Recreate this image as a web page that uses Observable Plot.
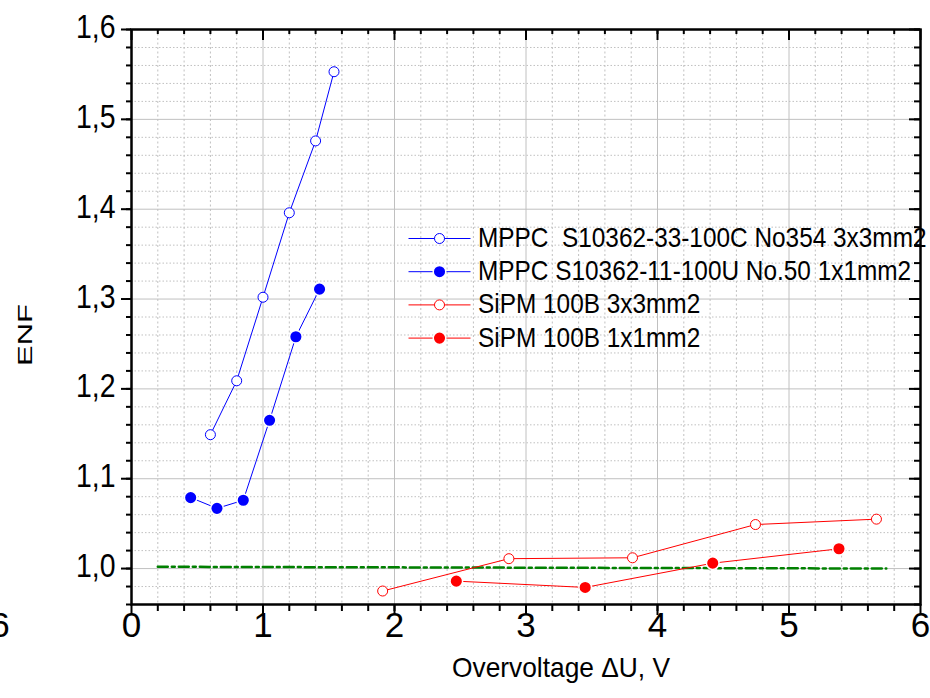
<!DOCTYPE html>
<html><head><meta charset="utf-8">
<script src="https://cdn.jsdelivr.net/npm/d3@7"></script>
<script src="https://cdn.jsdelivr.net/npm/@observablehq/plot@0.6"></script>
<style>
html,body{margin:0;padding:0;background:#fff;}
#chart{width:930px;height:698px;overflow:hidden;position:relative;}
#ylabel{position:absolute;left:24.5px;top:335px;font-family:'Liberation Sans',Arial,sans-serif;font-size:20px;line-height:20px;color:#000;white-space:nowrap;transform:translate(-50%,-50%) rotate(-90deg) scale(1.55,1);transform-origin:50% 50%;}
</style></head><body><div id="chart"></div>
<script>
// ---- data ----
const mppc33Voltage = [0.60, 0.80, 1.00, 1.20, 1.40, 1.54];
const mppc33Enf     = [1.149, 1.209, 1.302, 1.396, 1.476, 1.553];
const mppc11Voltage = [0.45, 0.65, 0.85, 1.05, 1.25, 1.43];
const mppc11Enf     = [1.079, 1.067, 1.076, 1.165, 1.258, 1.311];
const sipm3Voltage  = [1.91, 2.87, 3.81, 4.745, 5.665];
const sipm3Enf      = [0.975, 1.011, 1.012, 1.049, 1.055];
const sipm1Voltage  = [2.47, 3.45, 4.42, 5.38];
const sipm1Enf      = [0.986, 0.979, 1.006, 1.022];
const refLineVoltage = [0.2, 5.74];
const refLineEnf     = [1.002, 1.000];
const seriesNames = [
  "MPPC  S10362-33-100C No354 3x3mm2",
  "MPPC S10362-11-100U No.50 1x1mm2",
  "SiPM 100B 3x3mm2",
  "SiPM 100B 1x1mm2"
];
const xTickValues = [0, 1, 2, 3, 4, 5, 6];
const xTickLabels = ["0", "1", "2", "3", "4", "5", "6"];
const yTickValues = [1.0, 1.1, 1.2, 1.3, 1.4, 1.5, 1.6];
const yTickLabels = ["1,0", "1,1", "1,2", "1,3", "1,4", "1,5", "1,6"];
const strayTick = [{x: -1, label: "6"}];
const xLabel = "Overvoltage \u0394U, V";
const yLabel = "ENF";

// ---- styles ----
const series = [
  {name: seriesNames[0], xs: mppc33Voltage, ys: mppc33Enf, color: "#0000ff", filled: false},
  {name: seriesNames[1], xs: mppc11Voltage, ys: mppc11Enf, color: "#0000ff", filled: true},
  {name: seriesNames[2], xs: sipm3Voltage,  ys: sipm3Enf,  color: "#ff0000", filled: false},
  {name: seriesNames[3], xs: sipm1Voltage,  ys: sipm1Enf,  color: "#ff0000", filled: true}
];
const toRows = (xs, ys) => xs.map((x, i) => ({x, y: ys[i]}));

const xMinorAll = d3.range(1, 30).map(i => i / 5);
const xMinorGrid = d3.range(1, 30).filter(i => i % 5 !== 0).map(i => i / 5);
const yMinorAll = d3.range(96, 161, 2).map(i => i / 100);
const yMinorGrid = d3.range(98, 160, 2).filter(i => i % 10 !== 0).map(i => i / 100);
const xMajorGrid = [1, 2, 3, 4, 5];
const yMajorGrid = [1.0, 1.1, 1.2, 1.3, 1.4, 1.5];

const ML = 131, MR = 10, MT = 29, MB = 94, WIDTH = 930, HEIGHT = 698;
const W = WIDTH - ML - MR, H = HEIGHT - MT - MB;
const gridColor = "#c0c0c0";
const FONT = "'Liberation Sans', Arial, sans-serif";

const marks = [
  Plot.ruleX(xMinorGrid, {x: d => d, stroke: gridColor, strokeDasharray: "2,2.5", strokeWidth: 1}),
  Plot.ruleY(yMinorGrid, {y: d => d, stroke: gridColor, strokeDasharray: "1.5,2", strokeWidth: 1}),
  Plot.ruleX(xMajorGrid, {x: d => d, stroke: gridColor, strokeWidth: 1}),
  Plot.ruleY(yMajorGrid, {y: d => d, stroke: gridColor, strokeWidth: 1}),
  Plot.line(toRows(refLineVoltage, refLineEnf), {x: "x", y: "y", stroke: "#008000", strokeWidth: 2.5, strokeDasharray: "10,4,3,4"})
];
for (const s of series) {
  const rows = toRows(s.xs, s.ys);
  marks.push(Plot.line(rows, {x: "x", y: "y", stroke: s.color, strokeWidth: 1}));
  marks.push(s.filled
    ? Plot.dot(rows, {x: "x", y: "y", r: 6.3, fill: s.color, stroke: "white", strokeWidth: 1.5})
    : Plot.dot(rows, {x: "x", y: "y", r: 5, fill: "white", stroke: s.color, strokeWidth: 1}));
}
marks.push(
  Plot.frame({stroke: "black", strokeWidth: 2.5}),
  // bottom ticks (outward)
  Plot.ruleX(xMinorAll, {x: d => d, insetTop: H - 7, dy: 7, stroke: "black", strokeWidth: 2}),
  Plot.ruleX(xTickValues, {x: d => d, insetTop: H - 11, dy: 11, stroke: "black", strokeWidth: 2}),
  // top ticks (inward)
  Plot.ruleX(xMinorAll, {x: d => d, insetBottom: H - 5, stroke: "black", strokeWidth: 2}),
  Plot.ruleX(xTickValues, {x: d => d, insetBottom: H - 11, stroke: "black", strokeWidth: 2}),
  // left ticks (outward)
  Plot.ruleY(yMinorAll, {y: d => d, insetRight: W - 5, dx: -5, stroke: "black", strokeWidth: 2}),
  Plot.ruleY(yTickValues, {y: d => d, insetRight: W - 10, dx: -10, stroke: "black", strokeWidth: 2}),
  // right ticks (inward)
  Plot.ruleY(yMinorAll, {y: d => d, insetLeft: W - 6, stroke: "black", strokeWidth: 2}),
  Plot.ruleY(yTickValues, {y: d => d, insetLeft: W - 11, stroke: "black", strokeWidth: 2}),
  // tick labels and x-axis title
  Plot.text(yTickValues, {y: d => d, text: (d, i) => yTickLabels[i], frameAnchor: "left", textAnchor: "end", dx: -16, dy: -2, fontSize: 33, fill: "black"}),
  Plot.text(xTickValues, {x: d => d, text: (d, i) => xTickLabels[i], frameAnchor: "bottom", dy: 32, fontSize: 35, fill: "black"}),
  Plot.text(strayTick, {x: "x", text: "label", frameAnchor: "bottom", dy: 32, fontSize: 35, fill: "black"}),
  Plot.text([xLabel], {text: d => d, frameAnchor: "bottom", dx: 35, dy: 72, fontSize: 28, fill: "black"})
);

const plot = Plot.plot({
  width: WIDTH, height: HEIGHT,
  marginLeft: ML, marginRight: MR, marginTop: MT, marginBottom: MB,
  x: {domain: [0, 6], axis: null},
  y: {domain: [0.96, 1.6], axis: null},
  style: {fontFamily: FONT, background: "white"},
  marks
});
const chart = document.getElementById("chart");
chart.appendChild(plot);

// y-axis title (rotated, elongated as in the reference)
const yl = document.createElement("div");
yl.id = "ylabel";
yl.textContent = yLabel;
chart.appendChild(yl);

// ---- legend (inside plot area, drawn before the frame) ----
const frameNode = plot.querySelector('[aria-label="frame"]');
const legendG = document.createElementNS("http://www.w3.org/2000/svg", "g");
if (frameNode) frameNode.parentNode.insertBefore(legendG, frameNode); else plot.appendChild(legendG);
const lg = d3.select(legendG).attr("aria-label", "legend").attr("text-anchor", "start");
series.forEach((s, i) => {
  const cy = 238.5 + i * 33.2;
  lg.append("line").attr("x1", 408.5).attr("x2", 470.5).attr("y1", cy).attr("y2", cy)
    .attr("stroke", s.color).attr("stroke-width", 1);
  if (s.filled) {
    lg.append("circle").attr("cx", 439.5).attr("cy", cy).attr("r", 6.3)
      .attr("fill", s.color).attr("stroke", "white").attr("stroke-width", 1.5);
  } else {
    lg.append("circle").attr("cx", 439.5).attr("cy", cy).attr("r", 5)
      .attr("fill", "white").attr("stroke", s.color).attr("stroke-width", 1);
  }
  lg.append("text").attr("x", 0).attr("y", 0)
    .attr("transform", `translate(478,${cy + 8.5}) scale(1,1.1)`)
    .attr("font-size", 24.4).attr("fill", "black").attr("text-anchor", "start")
    .attr("font-family", FONT)
    .style("white-space", "pre")
    .text(s.name);
});

// ---- condensed text, as in the reference ----
function fit(t, len) {
  t.setAttribute("textLength", len.toFixed(1));
  t.setAttribute("lengthAdjust", "spacingAndGlyphs");
}
plot.querySelectorAll("text").forEach(t => {
  const s = (t.textContent || "").trim();
  let L = 0;
  try { L = t.getComputedTextLength(); } catch (e) { L = 0; }
  if (yTickLabels.includes(s) && L > 0) fit(t, L * 0.86);
  else if (s === xLabel && L > 0) fit(t, L * 0.94);
});
</script></body></html>
